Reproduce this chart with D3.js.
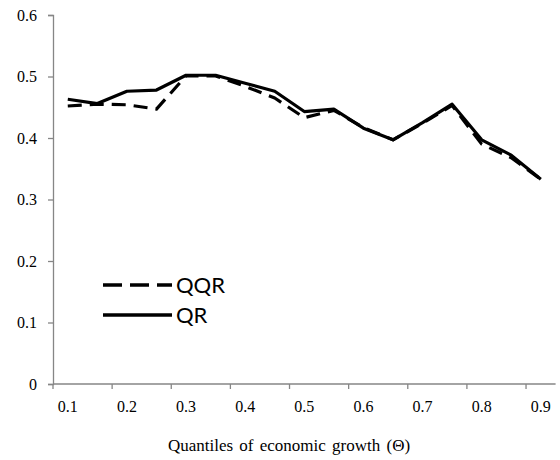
<!DOCTYPE html>
<html>
<head>
<meta charset="utf-8">
<script src="https://cdn.jsdelivr.net/npm/d3@7"></script>
<style>
  html, body { margin: 0; padding: 0; background: #fff; }
  svg { display: block; }
  .serif { font-family: "Liberation Serif", "Times New Roman", Times, serif; }
</style>
</head>
<body>
<svg id="chart" width="560" height="460"></svg>
<script>
// ---- data ----
const quantiles = ["0.10","0.15","0.20","0.25","0.30","0.35","0.40","0.45","0.50","0.55","0.60","0.65","0.70","0.75","0.80","0.85","0.90"];
const xTickLabels = ["0.1","0.2","0.3","0.4","0.5","0.6","0.7","0.8","0.9"];
const yTicks = [0, 0.1, 0.2, 0.3, 0.4, 0.5, 0.6];
const qqrValues = [0.452,0.455,0.454,0.447,0.501,0.501,0.484,0.465,0.433,0.445,0.417,0.397,0.424,0.453,0.390,0.368,0.333];
const qrValues  = [0.463,0.456,0.476,0.478,0.502,0.502,0.489,0.476,0.443,0.447,0.416,0.397,0.425,0.455,0.397,0.372,0.333];
const seriesNames = ["QQR","QR"];

// ---- layout ----
const svg = d3.select("#chart");
const plotLeft = 53, plotRight = 555.6, plotTop = 15, plotBottom = 384;
const axisColor = "#868686";
const serif = "'Liberation Serif', 'Times New Roman', Times, serif";

const x = d3.scaleBand().domain(quantiles).range([plotLeft, plotRight]).paddingInner(0).paddingOuter(0);
const y = d3.scaleLinear().domain([0, 0.6]).range([plotBottom, plotTop]);
const bw = x.bandwidth();

// y axis
const yAxis = d3.axisLeft(y).tickValues(yTicks).tickSize(5).tickPadding(11)
  .tickFormat(d => d === 0 ? "0" : d3.format(".1f")(d));
const gy = svg.append("g").attr("transform", `translate(${plotLeft},0)`).call(yAxis)
  .attr("font-family", serif).attr("font-size", 16);
gy.select(".domain").attr("stroke", axisColor).attr("stroke-width", 1.3);
gy.selectAll(".tick line").attr("stroke", axisColor).attr("stroke-width", 1.3);
gy.selectAll(".tick text").attr("fill", "#000").attr("class", "serif")
  .style("font-family", serif).style("font-size", "16px");

// x axis line
svg.append("line").attr("x1", plotLeft).attr("x2", plotRight).attr("y1", plotBottom).attr("y2", plotBottom)
  .attr("stroke", axisColor).attr("stroke-width", 1.3);

const labelCats = quantiles.filter((d, i) => i % 2 === 0);
// tick marks at band boundaries, every 2 categories
svg.append("g").selectAll("line").data(labelCats).join("line")
  .attr("x1", d => x(d)).attr("x2", d => x(d))
  .attr("y1", plotBottom).attr("y2", plotBottom + 5)
  .attr("stroke", axisColor).attr("stroke-width", 1.3);
// labels at category centres
svg.append("g").attr("font-family", serif).attr("font-size", 16)
  .selectAll("text").data(labelCats).join("text")
  .attr("class", "serif")
  .attr("x", d => x(d) + bw / 2).attr("y", 412)
  .attr("text-anchor", "middle")
  .style("font-size", "16px")
  .attr("fill", "#000")
  .text((d, i) => xTickLabels[i]);

// axis title
svg.append("text").attr("class", "serif").attr("x", 289).attr("y", 451)
  .attr("text-anchor", "middle")
  .style("font-size", "17px")
  .style("word-spacing", "2px")
  .attr("fill", "#000")
  .text("Quantiles of economic growth (\u0398)");

// ---- lines ----
const line = d3.line().x((d, i) => x(quantiles[i]) + bw / 2).y(d => y(d));
svg.append("path").datum(qqrValues).attr("d", line)
  .attr("fill", "none").attr("stroke", "#000").attr("stroke-width", 3.2)
  .attr("stroke-dasharray", "14,8").attr("stroke-linejoin", "round");
svg.append("path").datum(qrValues).attr("d", line)
  .attr("fill", "none").attr("stroke", "#000").attr("stroke-width", 3.2)
  .attr("stroke-linejoin", "round");

// ---- legend ----
const legend = svg.append("g");
const legY = [285, 315];
const dashes = ["19,8", null];
seriesNames.forEach((name, i) => {
  const ln = legend.append("line").attr("x1", 103).attr("x2", 172)
    .attr("y1", legY[i]).attr("y2", legY[i])
    .attr("stroke", "#000").attr("stroke-width", 3.5);
  if (dashes[i]) ln.attr("stroke-dasharray", dashes[i]);
  legend.append("text").attr("x", 176).attr("y", legY[i] + 8)
    .style("font-family", "Lato, 'Open Sans', sans-serif").style("font-size", "22px")
    .attr("fill", "#000").text(name);
});
</script>
</body>
</html>
